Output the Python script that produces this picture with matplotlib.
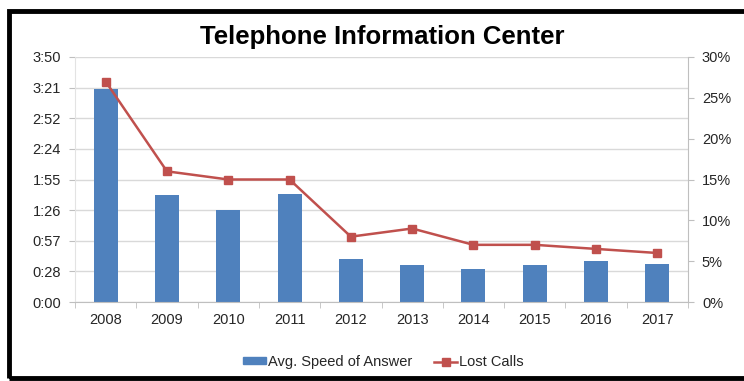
import matplotlib
matplotlib.use('Agg')
import numpy as np
from matplotlib import pyplot as plt
from matplotlib.patches import Rectangle
from matplotlib.lines import Line2D
from matplotlib.ticker import FixedLocator, PercentFormatter

plt.rcParams['font.family'] = ['Liberation Sans', 'DejaVu Sans']

years = ['2008', '2009', '2010', '2011', '2012', '2013', '2014', '2015', '2016', '2017']
# average speed of answer, in seconds
speed = [200, 100, 86, 101, 40, 35, 31, 35, 38.5, 36]
# lost calls, in percent
lost = [27, 16, 15, 15, 8, 9, 7, 7, 6.5, 6]
time_labels = ['0:00', '0:28', '0:57', '1:26', '1:55', '2:24', '2:52', '3:21', '3:50']
time_max = 230

blue = '#4F81BD'
red = '#C0504D'
grid = '#D9D9D9'
txt = '#262626'

fig = plt.figure(figsize=(7.44, 3.81), dpi=100)
ax = fig.add_axes([75/744, 1-302/381, (688-75)/744, (302-57)/381])

x = np.arange(len(years))
ax.bar(x, speed, width=0.39, color=blue, zorder=2)
ax.set_xlim(-0.5, len(years)-0.5)
ax.set_ylim(0, time_max)
yt = np.linspace(0, time_max, len(time_labels))
ax.set_yticks(yt)
ax.set_yticklabels(time_labels)
ax.set_xticks(x)
ax.set_xticklabels(years)
ax.xaxis.set_minor_locator(FixedLocator(np.arange(-0.5, len(years), 1)))
ax.tick_params(axis='x', which='major', length=0, pad=8, labelsize=10.5, colors=txt)
ax.tick_params(axis='x', which='minor', length=4, color='#BFBFBF')
ax.tick_params(axis='y', length=4, color='#BFBFBF', pad=6, labelsize=10.5, labelcolor=txt)
ax.yaxis.grid(True, color=grid, lw=1, zorder=0)
ax.set_axisbelow(True)
for s in ['top', 'right']:
    ax.spines[s].set_visible(False)
ax.spines['left'].set_color('#E3E3E3')
ax.spines['bottom'].set_color('#BFBFBF')

ax2 = ax.twinx()
ax2.plot(x, lost, color=red, lw=1.8, marker='s', markersize=6, zorder=3)
ax2.set_ylim(0, 30)
ax2.set_yticks(np.arange(0, 31, 5))
ax2.yaxis.set_major_formatter(PercentFormatter(decimals=0))
ax2.tick_params(axis='y', length=4, color='#BFBFBF', pad=6, labelsize=10.5, labelcolor=txt)
for s in ['top', 'left', 'bottom']:
    ax2.spines[s].set_visible(False)
ax2.spines['right'].set_color('#BFBFBF')

fig.text(382/744, 1-37/381, 'Telephone Information Center', ha='center', va='center',
         fontsize=18.5, fontweight='bold', color='black')

handles = [Rectangle((0, 0), 1, 1, color=blue),
           Line2D([], [], color=red, lw=1.8, marker='s', markersize=6)]
leg = fig.legend(handles, ['Avg. Speed of Answer', 'Lost Calls'], loc='center',
                 bbox_to_anchor=(0.515, 1-362/381), ncol=2, frameon=False,
                 fontsize=10.5, handlelength=1.6, handleheight=0.4,
                 handletextpad=0.1, columnspacing=1.5)
for t in leg.get_texts():
    t.set_color(txt)

# black frame, open on the right side
fig.add_artist(Rectangle((9/744, 3/381), 1.0, 1-3/381-10.5/381, transform=fig.transFigure,
                         fill=False, edgecolor='black', lw=3.5, clip_on=False))

fig.savefig('out.png', dpi=100)
